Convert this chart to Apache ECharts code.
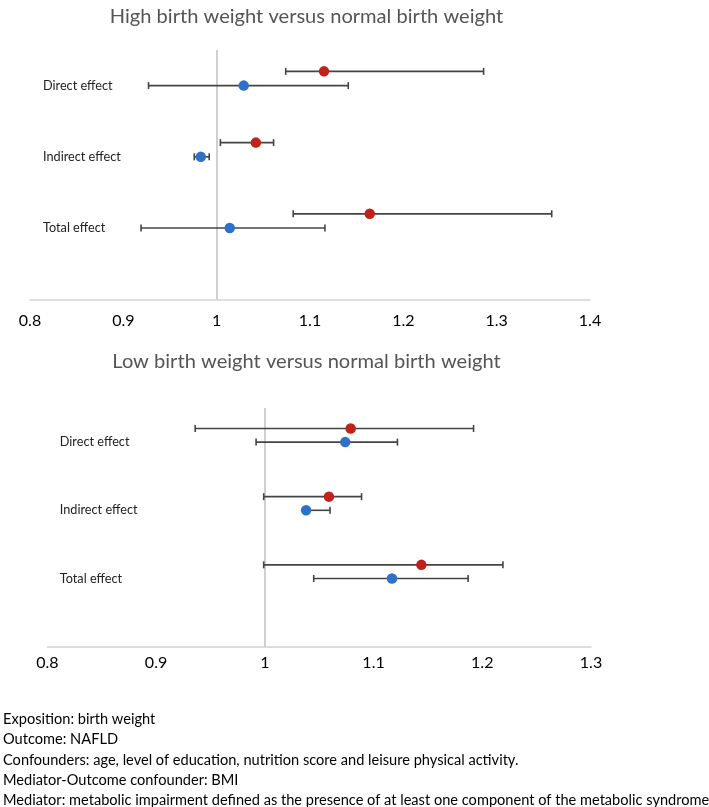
<!DOCTYPE html>
<html>
<head>
<meta charset="utf-8">
<script src="https://cdn.jsdelivr.net/npm/echarts@6/dist/echarts.min.js"></script>
<style>
html,body{margin:0;padding:0;background:#fff;}
#c{width:709px;height:807px;}
</style>
</head>
<body>
<div id="c"></div>
<script>
// ---------- data ----------
const categories = ['Direct effect', 'Indirect effect', 'Total effect'];
const xTicksTop = [0.8, 1.4];
const xTicksBottom = [0.8, 1.3];

const titleTop = 'High birth weight versus normal birth weight';
const titleBottom = 'Low birth weight versus normal birth weight';

// High birth weight vs normal (red = upper marker, blue = lower marker)
const hbwRedEst  = [1.115, 1.042, 1.164];
const hbwRedLow  = [1.074, 1.004, 1.082];
const hbwRedHigh = [1.286, 1.061, 1.359];
const hbwBlueEst  = [1.029, 0.983, 1.014];
const hbwBlueLow  = [0.927, 0.976, 0.919];
const hbwBlueHigh = [1.141, 0.992, 1.116];

// Low birth weight vs normal
const lbwRedEst  = [1.079, 1.059, 1.144];
const lbwRedLow  = [0.936, 0.999, 0.999];
const lbwRedHigh = [1.192, 1.089, 1.219];
const lbwBlueEst  = [1.074, 1.038, 1.117];
const lbwBlueLow  = [0.992, 1.036, 1.045];
const lbwBlueHigh = [1.122, 1.060, 1.187];

const footnotes = [
  'Exposition: birth weight',
  'Outcome: NAFLD',
  'Confounders: age, level of education, nutrition score and leisure physical activity.',
  'Mediator-Outcome confounder: BMI',
  'Mediator: metabolic impairment defined as the presence of at least one component of the metabolic syndrome'
];

// ---------- styles ----------
const FONT = 'Lato, "Open Sans", sans-serif';
const RED = '#c0211b';
const BLUE = '#2d72c8';
const BAR = '#444444';

// category position: Direct at 3, Indirect at 2, Total at 1; red sits 0.2 above
function catY(i) { return categories.length - i; }
const RED_OFF = 0.2;

function errData(low, high, off) {
  return low.map((l, i) => [l, high[i], catY(i) + off]);
}
function ptData(est, off) {
  return est.map((v, i) => [v, catY(i) + off]);
}

function renderErr(params, api) {
  const lo = api.value(0), hi = api.value(1), y = api.value(2);
  const p1 = api.coord([lo, y]);
  const p2 = api.coord([hi, y]);
  const h = 3.5;
  const st = { stroke: BAR, lineWidth: 1.6 };
  return {
    type: 'group',
    children: [
      { type: 'line', shape: { x1: p1[0], y1: p1[1], x2: p2[0], y2: p2[1] }, style: st },
      { type: 'line', shape: { x1: p1[0], y1: p1[1] - h, x2: p1[0], y2: p1[1] + h }, style: st },
      { type: 'line', shape: { x1: p2[0], y1: p2[1] - h, x2: p2[0], y2: p2[1] + h }, style: st }
    ]
  };
}

function xAxisCfg(gi, ticks, margin) {
  return {
    type: 'value', gridIndex: gi, min: ticks[0], max: ticks[1], interval: 0.1,
    axisLine: { show: true, lineStyle: { color: '#d4d4d4', width: 1.5 } },
    axisTick: { show: false },
    splitLine: { show: false },
    axisLabel: {
      color: '#000', fontSize: 16, fontFamily: FONT, margin: margin,
      formatter: v => String(Math.round(v * 10) / 10)
    }
  };
}
function yAxisCfg(gi, margin) {
  return {
    type: 'value', gridIndex: gi, min: 0, max: 3.5, interval: 1,
    axisLine: { show: false }, axisTick: { show: false }, splitLine: { show: false },
    axisLabel: {
      inside: true, margin: margin, color: '#222', fontSize: 12.7, fontFamily: FONT,
      formatter: v => (Number.isInteger(v) && v >= 1 && v <= categories.length) ? categories[categories.length - v] : ''
    }
  };
}

function seriesFor(gi, redEst, redLow, redHigh, blueEst, blueLow, blueHigh) {
  return [
    { type: 'custom', xAxisIndex: gi, yAxisIndex: gi, renderItem: renderErr,
      encode: { x: [0, 1], y: 2 }, data: errData(blueLow, blueHigh, 0), z: 2, silent: true },
    { type: 'custom', xAxisIndex: gi, yAxisIndex: gi, renderItem: renderErr,
      encode: { x: [0, 1], y: 2 }, data: errData(redLow, redHigh, RED_OFF), z: 2, silent: true },
    { type: 'scatter', xAxisIndex: gi, yAxisIndex: gi, symbol: 'circle', symbolSize: 10.5,
      itemStyle: { color: BLUE, opacity: 1 }, data: ptData(blueEst, 0), z: 3,
      markLine: { silent: true, symbol: 'none', label: { show: false },
        lineStyle: { color: '#c4c4c4', width: 1.6, type: 'solid' },
        data: [{ xAxis: 1 }], z: 1 } },
    { type: 'scatter', xAxisIndex: gi, yAxisIndex: gi, symbol: 'circle', symbolSize: 10.5,
      itemStyle: { color: RED, opacity: 1 }, data: ptData(redEst, RED_OFF), z: 3 }
  ];
}

const graphics = [
  { type: 'text', x: 306.5, y: 17, style: { text: titleTop, fill: '#555', font: '20.1px ' + FONT, align: 'center', verticalAlign: 'middle' } },
  { type: 'text', x: 306.5, y: 362, style: { text: titleBottom, fill: '#555', font: '20.1px ' + FONT, align: 'center', verticalAlign: 'middle' } }
];
footnotes.forEach((t, i) => {
  graphics.push({ type: 'text', x: 3, y: 719.5 + i * 20.2, style: { text: t, fill: '#000', font: '14.6px ' + FONT, align: 'left', verticalAlign: 'middle' } });
});

const chart = echarts.init(document.getElementById('c'), null, { renderer: 'canvas' });
chart.setOption({
  backgroundColor: '#fff',
  animation: false,
  grid: [
    { left: 30, right: 119, top: 50, bottom: 807 - 299.3 },
    { left: 47.3, right: 118, top: 408, bottom: 807 - 646.7 }
  ],
  xAxis: [xAxisCfg(0, xTicksTop, 14), xAxisCfg(1, xTicksBottom, 8)],
  yAxis: [yAxisCfg(0, 13), yAxisCfg(1, 12.5)],
  series: seriesFor(0, hbwRedEst, hbwRedLow, hbwRedHigh, hbwBlueEst, hbwBlueLow, hbwBlueHigh)
    .concat(seriesFor(1, lbwRedEst, lbwRedLow, lbwRedHigh, lbwBlueEst, lbwBlueLow, lbwBlueHigh)),
  graphic: graphics
});
</script>
</body>
</html>
